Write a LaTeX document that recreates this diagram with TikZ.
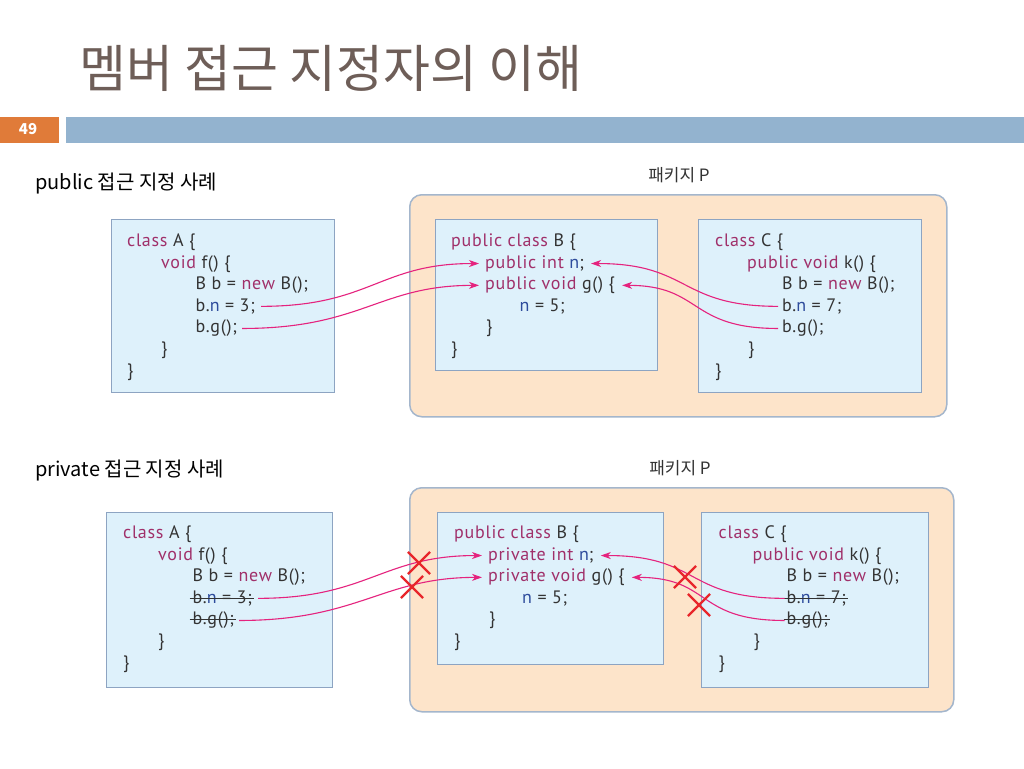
\documentclass[tikz,border=0pt]{standalone}
\usepackage{fontspec}
\newfontfamily\kr{Noto Sans CJK KR}
\newfontfamily\codefont[LetterSpace=4]{PT Sans}
\usetikzlibrary{arrows.meta,shapes.misc}
\definecolor{titlec}{HTML}{6E5E58}
\definecolor{orangec}{HTML}{E07B39}
\definecolor{barc}{HTML}{93B3CF}
\definecolor{pkgfill}{HTML}{FDE4CA}
\definecolor{pkgborder}{HTML}{A4B6CC}
\definecolor{boxfill}{HTML}{DEF1FB}
\definecolor{boxborder}{HTML}{8DA4C2}
\definecolor{kwc}{HTML}{A0306A}
\definecolor{vnc}{HTML}{2E4C9C}
\definecolor{codec}{HTML}{333333}
\definecolor{arrowc}{HTML}{E5237E}
\definecolor{xred}{HTML}{E8262B}
\newcommand{\kw}[1]{\textcolor{kwc}{#1}}
\newcommand{\vn}[1]{\textcolor{vnc}{#1}}
\begin{document}
\begin{tikzpicture}[x=1pt,y=-1pt,
  codeline/.style={anchor=base west, inner sep=0pt, font=\codefont\fontsize{18}{18}\selectfont, text=codec},
  classbox/.style={draw=boxborder, fill=boxfill, line width=1pt, anchor=north west, inner sep=0pt},
  pkgbox/.style={draw=pkgborder, fill=pkgfill, line width=1.5pt, rounded corners=12pt, anchor=north west, inner sep=0pt},
  acc/.style={draw=arrowc, line width=1.1pt, -{Stealth[length=10pt,width=7pt,inset=3pt]}},
  strike/.style={draw=codec, line width=0.9pt},
  nogo/.style={draw=xred, cross out, line width=2.2pt, minimum size=20pt, inner sep=0pt},
  sectlabel/.style={anchor=west, inner sep=0pt, font=\kr\fontsize{20}{20}\selectfont, text=black},
  pkglabel/.style={inner sep=0pt, font=\kr\fontsize{17}{17}\selectfont, text=codec}]
\useasboundingbox (0,0) rectangle (1024,768);
\fill[white] (0,0) rectangle (1024,768);
% header
\node[anchor=west, inner sep=0pt, font=\kr\fontsize{51}{51}\selectfont, text=titlec] (title) at (79,68) {멤버 접근 지정자의 이해};
\node[fill=orangec, anchor=north west, minimum width=59pt, minimum height=26pt, inner sep=0pt] (pnum) at (0,117) {};
\node[font=\kr\bfseries\fontsize{15}{15}\selectfont, text=white, inner sep=0pt] (pnumtext) at (28,129) {49};
\node[fill=barc, anchor=north west, minimum width=958pt, minimum height=26pt, inner sep=0pt] (bar) at (66,117) {};
% ---------------- public ----------------
\node[sectlabel] (lab1) at (35,184) {public 접근 지정 사례};
\node[pkglabel] (pk1) at (679,175) {패키지 P};
\node[pkgbox, minimum width=537pt, minimum height=222pt] (pkg1) at (409,194) {};
\node[classbox, minimum width=223pt, minimum height=173pt] (boxA1) at (111,219) {};
\node[classbox, minimum width=222pt, minimum height=151pt] (boxB1) at (435,219) {};
\node[classbox, minimum width=223pt, minimum height=173pt] (boxC1) at (698,219) {};
% code A
\node[codeline] (ta1) at (127,246.5) {\kw{class} A \{};
\node[codeline] (ta2) at (161,268.1) {\kw{void} f() \{};
\node[codeline] (ta3) at (195.5,289.7) {B b = \kw{new} B();};
\node[codeline] (ta4) at (195.5,311.3) {b.\vn{n} = 3;};
\node[codeline] (ta5) at (195.5,332.9) {b.g();};
\node[codeline] (ta6) at (161,354.5) {\}};
\node[codeline] (ta7) at (127,376.1) {\}};
% code B
\node[codeline] (tb1) at (451,246.5) {\kw{public class} B \{};
\node[codeline] (tb2) at (485,268.1) {\kw{public int} \vn{n};};
\node[codeline] (tb3) at (485,289.7) {\kw{public void} g() \{};
\node[codeline] (tb4) at (519.5,311.3) {\vn{n} = 5;};
\node[codeline] (tb5) at (486,332.9) {\}};
\node[codeline] (tb6) at (451,354.5) {\}};
% code C
\node[codeline] (tc1) at (715,246.5) {\kw{class} C \{};
\node[codeline] (tc2) at (747,268.1) {\kw{public void} k() \{};
\node[codeline] (tc3) at (782,289.7) {B b = \kw{new} B();};
\node[codeline] (tc4) at (782,311.3) {b.\vn{n} = 7;};
\node[codeline] (tc5) at (782,332.9) {b.g();};
\node[codeline] (tc6) at (748,354.5) {\}};
\node[codeline] (tc7) at (715,376.1) {\}};
% arrows
\draw[acc] ([xshift=6pt]ta4.east) .. controls +(110,0) and +(-100,0) .. ([xshift=-6pt]tb2.west);
\draw[acc] ([xshift=5pt]ta5.east) .. controls +(120,0) and +(-100,0) .. ([xshift=-6pt]tb3.west);
\draw[acc] ([xshift=-4pt]tc4.west) .. controls +(-100,0) and +(100,0) .. ([xshift=7pt]tb2.east);
\draw[acc] ([xshift=-4pt]tc5.west) .. controls +(-90,0) and +(80,0) .. ([xshift=7pt]tb3.east);
% ---------------- private ----------------
\node[sectlabel] (lab2) at (35,471) {private 접근 지정 사례};
\node[pkglabel] (pk2) at (680,468) {패키지 P};
\node[pkgbox, minimum width=544pt, minimum height=224pt] (pkg2) at (409,487) {};
\node[classbox, minimum width=226pt, minimum height=175pt] (boxA2) at (106,512) {};
\node[classbox, minimum width=226pt, minimum height=152pt] (boxB2) at (437,512) {};
\node[classbox, minimum width=227pt, minimum height=175pt] (boxC2) at (701,512) {};
% code A
\node[codeline] (ba1) at (123,538.5) {\kw{class} A \{};
\node[codeline] (ba2) at (158,560.1) {\kw{void} f() \{};
\node[codeline] (ba3) at (192.5,581.7) {B b = \kw{new} B();};
\node[codeline] (ba4) at (192.5,603.3) {b.\vn{n} = 3;};
\node[codeline] (ba5) at (192.5,624.9) {b.g();};
\node[codeline] (ba6) at (158,646.5) {\}};
\node[codeline] (ba7) at (123,668.1) {\}};
% code B
\node[codeline] (bb1) at (454,538.5) {\kw{public class} B \{};
\node[codeline] (bb2) at (488,560.1) {\kw{private int} \vn{n};};
\node[codeline] (bb3) at (488,581.7) {\kw{private void} g() \{};
\node[codeline] (bb4) at (522,603.3) {\vn{n} = 5;};
\node[codeline] (bb5) at (489,624.9) {\}};
\node[codeline] (bb6) at (454,646.5) {\}};
% code C
\node[codeline] (bc1) at (718.5,538.5) {\kw{class} C \{};
\node[codeline] (bc2) at (752.5,560.1) {\kw{public void} k() \{};
\node[codeline] (bc3) at (786.5,581.7) {B b = \kw{new} B();};
\node[codeline] (bc4) at (786.5,603.3) {b.\vn{n} = 7;};
\node[codeline] (bc5) at (786.5,624.9) {b.g();};
\node[codeline] (bc6) at (753.5,646.5) {\}};
\node[codeline] (bc7) at (718.5,668.1) {\}};
% strike-throughs
\foreach \n in {ba4,ba5,bc4,bc5}
  \draw[strike] ([xshift=-3pt,yshift=5pt]\n.base west) -- ([xshift=2pt,yshift=5pt]\n.base east);
% arrows
\draw[acc] ([xshift=6pt]ba4.east) .. controls +(110,0) and +(-100,0) .. ([xshift=-6pt]bb2.west);
\draw[acc] ([xshift=5pt]ba5.east) .. controls +(120,0) and +(-100,0) .. ([xshift=-6pt]bb3.west);
\draw[acc] ([xshift=-2pt]bc4.west) .. controls +(-100,0) and +(100,0) .. ([xshift=7pt]bb2.east);
\draw[acc] ([xshift=-2pt]bc5.west) .. controls +(-90,0) and +(80,0) .. ([xshift=7pt]bb3.east);
% denied marks
\node[nogo] (x1) at (419,563) {};
\node[nogo] (x2) at (412,587) {};
\node[nogo] (x3) at (685,577) {};
\node[nogo] (x4) at (699,605) {};
\end{tikzpicture}
\end{document}
